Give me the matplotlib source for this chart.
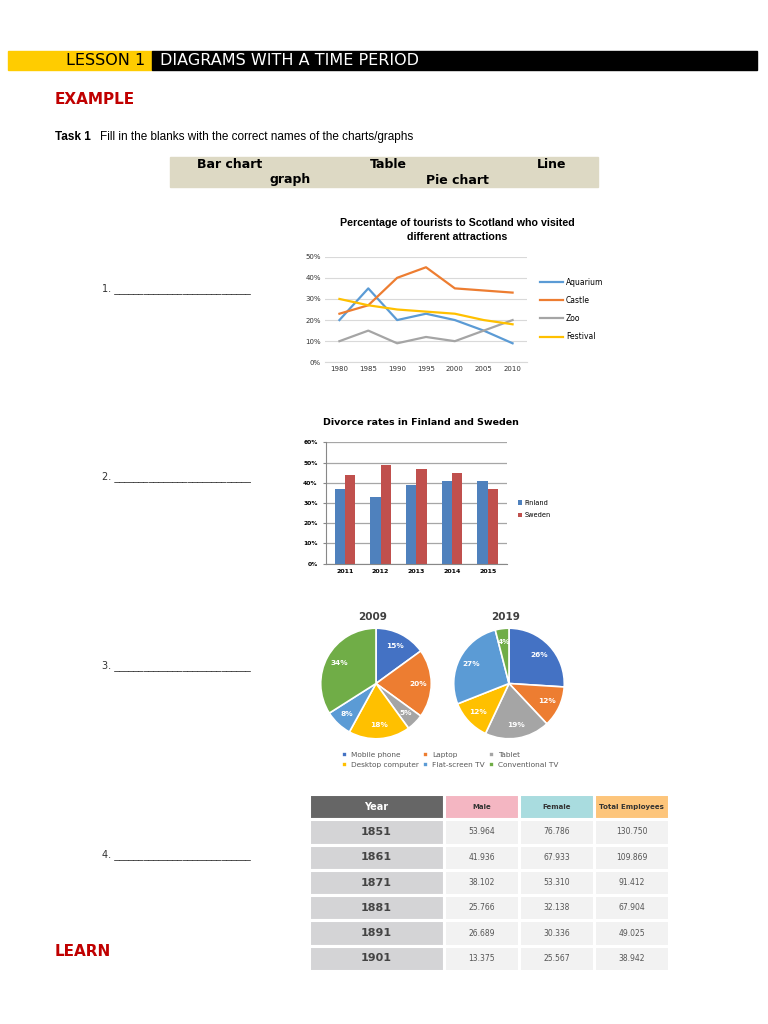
"""Worksheet page: four example diagrams (line, bar, pie, table)."""

import matplotlib.pyplot as plt
from matplotlib.patches import Rectangle
import numpy as np

W, H = 768, 1024

# --- line chart data ---
line_years = [1980, 1985, 1990, 1995, 2000, 2005, 2010]
aquarium = [20, 35, 20, 23, 20, 15, 9]
castle = [23, 27, 40, 45, 35, 34, 33]
zoo = [10, 15, 9, 12, 10, 15, 20]
festival = [30, 27, 25, 24, 23, 20, 18]

# --- bar chart data ---
bar_years = ["2011", "2012", "2013", "2014", "2015"]
finland = [37, 33, 39, 41, 41]
sweden = [44, 49, 47, 45, 37]

# --- pie data ---
pie_labels = ["Mobile phone", "Laptop", "Tablet", "Desktop computer",
              "Flat-screen TV", "Conventional TV"]
pie_2009 = [15, 20, 5, 18, 8, 34]
pie_2019 = [26, 12, 19, 12, 27, 4]

# --- table data ---
tbl_header = ["Year", "Male", "Female", "Total Employees"]
tbl_years = ["1851", "1861", "1871", "1881", "1891", "1901"]
tbl_male = ["53.964", "41.936", "38.102", "25.766", "26.689", "13.375"]
tbl_female = ["76.786", "67.933", "53.310", "32.138", "30.336", "25.567"]
tbl_total = ["130.750", "109.869", "91.412", "67.904", "49.025", "38.942"]


def box(x0, y0, x1, y1):
    return [x0 / W, 1 - y1 / H, (x1 - x0) / W, (y1 - y0) / H]


def fx(x):
    return x / W


def fy(y):
    return 1 - y / H


fig = plt.figure(figsize=(W / 100, H / 100), dpi=100)
fig.patch.set_facecolor("white")

# header bar
fig.patches.append(Rectangle((fx(8), fy(70)), fx(152) - fx(8), fy(51) - fy(70),
                             transform=fig.transFigure, color="#FFCC00", zorder=0))
fig.patches.append(Rectangle((fx(152), fy(70)), fx(757) - fx(152), fy(51) - fy(70),
                             transform=fig.transFigure, color="black", zorder=0))
fig.text(fx(145), fy(60.5), "LESSON 1", ha="right", va="center", fontsize=11.5, color="black")
fig.text(fx(160), fy(60.5), "DIAGRAMS WITH A TIME PERIOD", ha="left", va="center",
         fontsize=11.5, color="white")

fig.text(fx(55), fy(100), "EXAMPLE", ha="left", va="center", fontsize=11,
         fontweight="bold", color="#C00000")
fig.text(fx(55), fy(137), "Task 1", ha="left", va="center", fontsize=8.5,
         fontweight="bold", family="Liberation Sans")
fig.text(fx(100), fy(137), "Fill in the blanks with the correct names of the charts/graphs",
         ha="left", va="center", fontsize=8.5, family="Liberation Sans")

# word box
fig.patches.append(Rectangle((fx(170), fy(187)), fx(598) - fx(170), fy(157) - fy(187),
                             transform=fig.transFigure, color="#DDD9C4", zorder=0))
for txt, x, y in [("Bar chart", 197, 164), ("Table", 370, 164), ("Line", 537, 164),
                  ("graph", 270, 180), ("Pie chart", 426, 180)]:
    fig.text(fx(x), fy(y), txt, ha="left", va="center", fontsize=9, fontweight="bold")

# numbered blanks
for n, y in [(1, 289), (2, 477), (3, 666), (4, 855)]:
    fig.text(fx(102), fy(y), f"{n}. " + "_" * 28, ha="left", va="center",
             fontsize=7, color="#333333")

fig.text(fx(55), fy(952), "LEARN", ha="left", va="center", fontsize=11,
         fontweight="bold", color="#C00000")

# ---------- line chart ----------
ax1 = fig.add_axes(box(325, 256.7, 527, 362.3))
series = [("Aquarium", aquarium, "#5B9BD5"), ("Castle", castle, "#ED7D31"),
          ("Zoo", zoo, "#A5A5A5"), ("Festival", festival, "#FFC000")]
for name, vals, col in series:
    ax1.plot(line_years, vals, color=col, linewidth=1.6, label=name)
ax1.set_xlim(1977.5, 2012.5)
ax1.set_ylim(0, 50)
ax1.set_xticks(line_years)
ax1.set_yticks(range(0, 51, 10))
ax1.set_yticklabels([f"{v}%" for v in range(0, 51, 10)])
ax1.tick_params(labelsize=5, length=0, pad=3, colors="#333333")
ax1.grid(axis="y", color="#D9D9D9", linewidth=0.8)
ax1.set_axisbelow(True)
for s in ["top", "right", "left"]:
    ax1.spines[s].set_visible(False)
ax1.spines["bottom"].set_color("#D9D9D9")
ax1.legend(loc="center left", bbox_to_anchor=(1.03, 0.5), frameon=False, fontsize=5.5,
           handlelength=3, labelspacing=1.2, handletextpad=0.4)
fig.text(fx(457), fy(223), "Percentage of tourists to Scotland who visited", ha="center",
         va="center", fontsize=7.7, fontweight="bold", family="Liberation Sans")
fig.text(fx(457), fy(237.5), "different attractions", ha="center",
         va="center", fontsize=7.7, fontweight="bold", family="Liberation Sans")

# ---------- bar chart ----------
ax2 = fig.add_axes(box(326, 442.3, 506.7, 563.7))
xb = np.arange(len(bar_years))
bw = 0.29
ax2.bar(xb - bw / 2, finland, bw, color="#4F81BD", label="Finland")
ax2.bar(xb + bw / 2, sweden, bw, color="#C0504D", label="Sweden")
ax2.set_xlim(-0.53, 4.53)
ax2.set_ylim(0, 60)
ax2.set_xticks(xb)
ax2.set_xticklabels(bar_years, fontweight="bold")
ax2.set_yticks(range(0, 61, 10))
ax2.set_yticklabels([f"{v}%" for v in range(0, 61, 10)], fontweight="bold")
ax2.tick_params(axis="y", labelsize=4.3, length=2, pad=4, color="#888888")
ax2.tick_params(axis="x", labelsize=4.5, length=0, pad=4)
ax2.grid(axis="y", color="#A6A6A6", linewidth=0.9)
ax2.set_axisbelow(True)
for s in ["top", "right"]:
    ax2.spines[s].set_visible(False)
ax2.spines["left"].set_color("#888888")
ax2.spines["bottom"].set_color("#888888")
ax2.legend(loc="center left", bbox_to_anchor=(1.03, 0.45), frameon=False, fontsize=4.8,
           handlelength=0.6, handleheight=0.6, labelspacing=1.0, handletextpad=0.4)
fig.text(fx(421), fy(422.5), "Divorce rates in Finland and Sweden", ha="center",
         va="center", fontsize=6.8, fontweight="bold")

# ---------- pies ----------
pie_colors = ["#4472C4", "#ED7D31", "#A5A5A5", "#FFC000", "#5B9BD5", "#70AD47"]
wedges = None
for vals, cx, title in [(pie_2009, 376, "2009"), (pie_2019, 509, "2019")]:
    axp = fig.add_axes(box(cx - 57, 683.5 - 57, cx + 57, 683.5 + 57))
    w, _, autot = axp.pie(vals, colors=pie_colors, startangle=90, counterclock=False,
                          radius=0.97, autopct="%d%%", pctdistance=0.76,
                          wedgeprops=dict(edgecolor="white", linewidth=1.2),
                          textprops=dict(color="white", fontsize=5.3, fontweight="bold"))
    axp.set_aspect("equal")
    axp.set_xlim(-1, 1)
    axp.set_ylim(-1, 1)
    wedges = w
    fig.text(fx(cx - 3), fy(617), title, ha="center", va="center", fontsize=7.5,
             fontweight="bold", color="#404040")
order = [0, 3, 1, 4, 2, 5]
axl = fig.add_axes(box(325, 745, 575, 775))
axl.axis("off")
axl.legend([wedges[i] for i in order], [pie_labels[i] for i in order], ncol=3,
           loc="center", frameon=False, fontsize=5.3, handlelength=0.7, handleheight=0.7,
           columnspacing=0.6, handletextpad=0.5, labelspacing=0.5,
           labelcolor="#595959")

# ---------- table ----------
axt = fig.add_axes(box(309, 794, 669, 971))
axt.axis("off")
cells = [[y, m, f, t] for y, m, f, t in zip(tbl_years, tbl_male, tbl_female, tbl_total)]
colours = [["#D4D4D6", "#F2F2F2", "#F2F2F2", "#F2F2F2"] for _ in cells]
tab = axt.table(cellText=cells, colLabels=tbl_header, cellColours=colours,
                colColours=["#666666", "#F4B6C2", "#A9DCDF", "#FDC57B"],
                colWidths=[135, 75, 75, 75], cellLoc="center", bbox=[0, 0, 1, 1])
tab.auto_set_font_size(False)
for (r, c), cell in tab.get_celld().items():
    cell.set_edgecolor("white")
    cell.set_linewidth(2.2)
    t = cell.get_text()
    if r == 0:
        t.set_fontweight("bold")
        t.set_fontsize(7 if c == 0 else 5)
        t.set_color("white" if c == 0 else "#333333")
    elif c == 0:
        t.set_fontsize(8)
        t.set_fontweight("bold")
        t.set_color("#444444")
    else:
        t.set_fontsize(5.5)
        t.set_color("#555555")

fig.savefig("out.png", dpi=100, facecolor="white")
